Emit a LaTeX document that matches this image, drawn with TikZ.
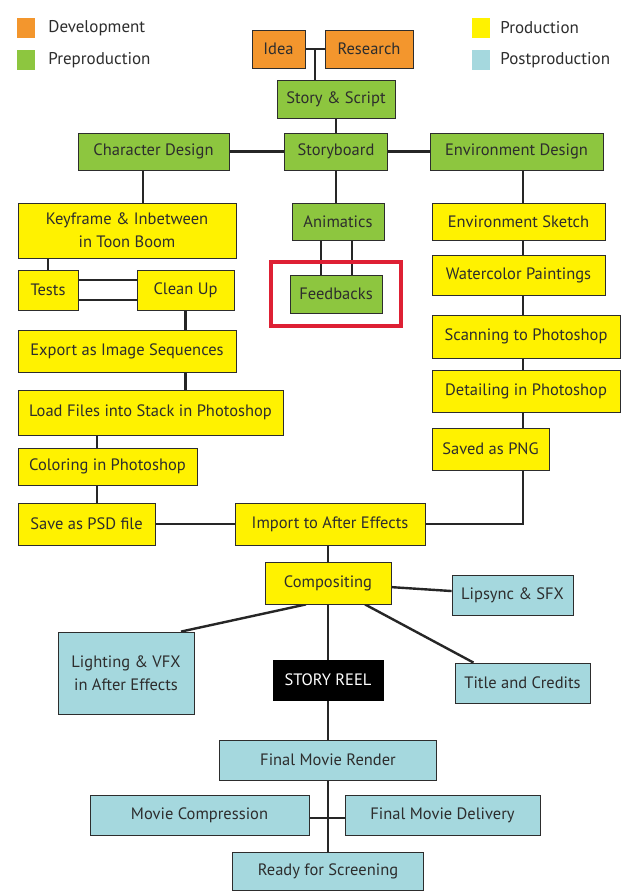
\documentclass[tikz,border=0pt]{standalone}
\usepackage{fontspec}
\setmainfont{PT Sans}
\usepackage{tikz}
\usetikzlibrary{positioning, calc, fit, backgrounds}
\definecolor{devcolor}{RGB}{243, 150, 45}
\definecolor{precolor}{RGB}{141, 198, 63}
\definecolor{prodcolor}{RGB}{255, 242, 0}
\definecolor{postcolor}{RGB}{165, 216, 222}
\definecolor{textgray}{RGB}{45, 45, 45}
\definecolor{framered}{RGB}{222, 32, 52}

\begin{document}
\begin{tikzpicture}[
    x=1pt, y=-1pt,
    box/.style={draw=textgray, line width=0.8pt, inner sep=0pt, text=textgray, font=\fontsize{16.5}{23}\selectfont, align=center},
    sz/.style 2 args={minimum width=#1pt, minimum height=#2pt},
    dev/.style={box, fill=devcolor},
    pre/.style={box, fill=precolor},
    prod/.style={box, fill=prodcolor},
    post/.style={box, fill=postcolor},
    reel/.style={box, fill=black, draw=black, text=white},
    swatch/.style={minimum width=18pt, minimum height=20pt, inner sep=0pt},
    legend/.style={inner sep=0pt, text=textgray, font=\fontsize{17}{20}\selectfont},
    frame/.style={draw=framered, line width=4pt, inner xsep=19pt, inner ysep=13pt},
    link/.style={line width=2.4pt, black!85}
]
    \useasboundingbox (0,0) rectangle (623,894);

    % Legend
    \node[swatch, fill=devcolor] (legdev) at (26,28) {};
    \node[legend, right=13pt of legdev] {Development};
    \node[swatch, fill=precolor] (legpre) at (26,60) {};
    \node[legend, right=13pt of legpre] {Preproduction};
    \node[swatch, fill=prodcolor] (legprod) at (481,28) {};
    \node[legend, right=10pt of legprod] {Production};
    \node[swatch, fill=postcolor] (legpost) at (481,60) {};
    \node[legend, right=10pt of legpost] {Postproduction};

    % Nodes - top
    \node[dev, sz={53}{38}] (idea) at (278.5,49) {Idea};
    \node[dev, sz={88}{38}] (research) at (369,49) {Research};
    \node[pre, sz={118}{38}] (story) at (336,99) {Story \& Script};
    \node[pre, sz={151}{37}] (chardesign) at (153.5,151.5) {Character Design};
    \node[pre, sz={103}{37}] (storyboard) at (336,151.5) {Storyboard};
    \node[pre, sz={173}{37}] (envdesign) at (516.5,151.5) {Environment Design};

    % Nodes - left column
    \node[prod, sz={218}{55}] (keyframe) at (127,230.5) {Keyframe \& Inbetween\\in Toon Boom};
    \node[prod, sz={60}{40}] (tests) at (48,290) {Tests};
    \node[prod, sz={97}{40}] (cleanup) at (185.5,290) {Clean Up};
    \node[prod, sz={218}{42}] (export) at (127,351) {Export as Image Sequences};
    \node[prod, sz={265}{45}] (loadfiles) at (150.5,412.5) {Load Files into Stack in Photoshop};
    \node[prod, sz={179}{37}] (coloring) at (107.5,466.5) {Coloring in Photoshop};
    \node[prod, sz={137}{42}] (savepsd) at (86.5,524) {Save as PSD file};

    % Nodes - middle column
    \node[pre, sz={92}{37}] (animatics) at (338,221.5) {Animatics};
    \node[pre, sz={92}{38}] (feedbacks) at (336,294) {Feedbacks};
    \node[frame, fit=(feedbacks)] (redframe) {};

    % Nodes - right column
    \node[prod, sz={173}{37}] (envsketch) at (518.5,221.5) {Environment Sketch};
    \node[prod, sz={173}{40}] (watercolor) at (518.5,275) {Watercolor Paintings};
    \node[prod, sz={188}{43}] (scanning) at (526,336.5) {Scanning to Photoshop};
    \node[prod, sz={188}{42}] (detailing) at (526,391) {Detailing in Photoshop};
    \node[prod, sz={117}{42}] (savedpng) at (490.5,449) {Saved as PNG};

    % Nodes - bottom
    \node[prod, sz={190}{42}] (import) at (330,524) {Import to After Effects};
    \node[prod, sz={126}{42}] (compositing) at (328,583) {Compositing};
    \node[post, sz={121}{40}] (lipsync) at (512.5,595) {Lipsync \& SFX};
    \node[post, sz={136}{82}] (lighting) at (126,673) {Lighting \& VFX\\in After Effects};
    \node[reel, sz={110}{40}] (storyreel) at (328,680) {STORY REEL};
    \node[post, sz={135}{40}] (title) at (522.5,683) {Title and Credits};
    \node[post, sz={217}{40}] (finalrender) at (328,760) {Final Movie Render};
    \node[post, sz={219}{40}] (compression) at (199.5,815) {Movie Compression};
    \node[post, sz={195}{40}] (delivery) at (442.5,815) {Final Movie Delivery};
    \node[post, sz={191}{38}] (ready) at (328,871) {Ready for Screening};

    % Connectors
    \begin{scope}[on background layer]
        \fill[white] (0,0) rectangle (623,894);
        \coordinate (ir) at ($(idea.east)!.5!(research.west)$);
        \coordinate (chcol) at (143,0);
        \coordinate (envcol) at (523,0);
        \coordinate (lcol) at (97,0);
        \coordinate (fa) at (321,0);
        \coordinate (fb) at (352,0);
        \coordinate (cl1) at ([xshift=-22pt]compositing.south);
        \coordinate (cl2) at ([xshift=55pt]lighting.north);
        \coordinate (ct1) at ([xshift=37pt]compositing.south);
        \coordinate (ct2) at ([xshift=-49pt]title.north);

        \draw[link] (idea) -- (research);
        \draw[link] (ir) -- (ir |- story);
        \draw[link] (story) -- (storyboard);
        \draw[link] (chardesign) -- (storyboard) -- (envdesign);
        \draw[link] (chardesign -| chcol) -- (keyframe -| chcol);
        \draw[link] (storyboard) -- (storyboard |- animatics);
        \draw[link] (animatics -| fa) -- (feedbacks -| fa);
        \draw[link] (animatics -| fb) -- (feedbacks -| fb);
        \draw[link] (keyframe -| tests) -- (tests);
        \draw[link] ([yshift=10pt]tests.center) -- ([yshift=10pt]cleanup.center);
        \draw[link] ([yshift=-10pt]tests.center) -- ([yshift=-10pt]cleanup.center);
        \draw[link] (cleanup) -- (cleanup |- loadfiles);
        \draw[link] (loadfiles -| lcol) -- (savepsd -| lcol);
        \draw[link] (envdesign -| envcol) |- (import);
        \draw[link] (savepsd) -- (import);
        \draw[link] (import -| ready) -- (ready);
        \draw[link] (compositing) -- (lipsync);
        \draw[link] (cl1) -- (cl2);
        \draw[link] (ct1) -- (ct2);
        \draw[link] ([yshift=-3pt]compression.center) -- ([yshift=-3pt]delivery.center);
    \end{scope}
\end{tikzpicture}
\end{document}
